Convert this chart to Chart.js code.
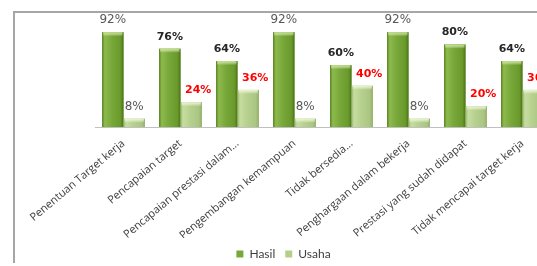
<!DOCTYPE html>
<html>
<head>
<meta charset="utf-8">
<script src="https://cdn.jsdelivr.net/npm/chart.js@4/dist/chart.umd.min.js"></script>
<style>
html,body{margin:0;padding:0;background:#fff;overflow:hidden;height:266px;}
#wrap{position:relative;width:567px;height:270px;}
</style>
</head>
<body>
<div id="wrap"><canvas id="c" width="567" height="270"></canvas></div>
<script>
const categories = [
  "Penentuan Target kerja",
  "Pencapaian target",
  "Pencapaian prestasi dalam...",
  "Pengembangan kemampuan",
  "Tidak bersedia...",
  "Penghargaan dalam bekerja",
  "Prestasi yang sudah didapat",
  "Tidak mencapai target kerja"
];
const hasil = [92, 76, 64, 92, 60, 92, 80, 64];
const usaha = [8, 24, 36, 8, 40, 8, 20, 36];
const seriesNames = ["Hasil", "Usaha"];

const framePlugin = {
  id: 'frame',
  beforeDraw(chart) {
    const ctx = chart.ctx;
    ctx.save();
    ctx.fillStyle = '#ffffff';
    ctx.fillRect(0, 0, chart.width, chart.height);
    ctx.strokeStyle = '#a6a6a6';
    ctx.lineWidth = 2;
    ctx.beginPath();
    ctx.moveTo(14, 263);
    ctx.lineTo(14, 12);
    ctx.lineTo(700, 12);
    ctx.stroke();
    ctx.restore();
  }
};

const barStyle = [
  { stops: [[0,'#587f22'],[0.12,'#8dba4c'],[0.45,'#79a83a'],[0.85,'#6a9a2c'],[1,'#4c7418']], cap: '#c6e28a' },
  { stops: [[0,'#98b56c'],[0.12,'#c6dda0'],[0.45,'#b7d08e'],[0.85,'#aac682'],[1,'#93b068']], cap: '#e8f5cc' }
];

const barShade = {
  id: 'barShade',
  afterDatasetsDraw(chart) {
    const ctx = chart.ctx;
    ctx.save();
    chart.data.datasets.forEach((ds, di) => {
      const meta = chart.getDatasetMeta(di);
      const st = barStyle[di];
      meta.data.forEach((bar) => {
        const w = bar.width, l = bar.x - w / 2, t = bar.y, b = bar.base;
        const g = ctx.createLinearGradient(l, 0, l + w, 0);
        st.stops.forEach(s => g.addColorStop(s[0], s[1]));
        ctx.fillStyle = g;
        ctx.fillRect(l, t, w, b - t);
        const cg = ctx.createLinearGradient(0, t, 0, t + 4);
        cg.addColorStop(0, st.cap);
        cg.addColorStop(1, 'rgba(255,255,255,0)');
        ctx.fillStyle = cg;
        ctx.fillRect(l + 1, t, w - 2, 4);
      });
    });
    ctx.restore();
  }
};

const valueLabels = {
  id: 'valueLabels',
  afterDatasetsDraw(chart) {
    const ctx = chart.ctx;
    ctx.save();
    ctx.textAlign = 'center';
    ctx.textBaseline = 'middle';
    chart.data.datasets.forEach((ds, di) => {
      const meta = chart.getDatasetMeta(di);
      meta.data.forEach((bar, i) => {
        const v = ds.data[i];
        let color, font, dx = 0;
        if (di === 0) {
          if (v === 92) { color = '#595959'; font = '12px "DejaVu Sans"'; }
          else { color = '#262626'; font = 'bold 11px "DejaVu Sans"'; }
        } else {
          if (v === 8) { color = '#595959'; font = '12px "DejaVu Sans"'; }
          else { color = '#ff0000'; font = 'bold 11px "DejaVu Sans"'; dx = 7; }
        }
        ctx.fillStyle = color;
        ctx.font = font;
        ctx.fillText(v + '%', bar.x + dx, bar.y - 12);
      });
    });
    ctx.restore();
  }
};

new Chart(document.getElementById('c'), {
  type: 'bar',
  data: {
    labels: categories,
    datasets: [
      { label: seriesNames[0], data: hasil, backgroundColor: '#77a83a', borderWidth: 0 },
      { label: seriesNames[1], data: usaha, backgroundColor: '#b5cf8a', borderWidth: 0 }
    ]
  },
  options: {
    responsive: false,
    animation: false,
    events: [],
    layout: { padding: { top: 24, bottom: 0, left: 0, right: 0 } },
    datasets: { bar: { categoryPercentage: 0.75, barPercentage: 1.0 } },
    scales: {
      x: {
        grid: { display: false },
        border: { display: true, color: '#c0c0c0', width: 1 },
        ticks: {
          minRotation: 40, maxRotation: 40, autoSkip: false, padding: 2,
          color: '#404040', font: { family: 'Open Sans', size: 11 }
        },
        afterFit(s) {
          const lh = s.chart.legend ? s.chart.legend.height : 0;
          s.height = s.chart.height - lh - 127;
        }
      },
      y: {
        min: 0, max: 100, position: 'left',
        grid: { display: false }, border: { display: false },
        ticks: { display: false },
        afterFit(s) { s.width = 95; }
      },
      y2: {
        min: 0, max: 100, position: 'right', display: true,
        grid: { display: false }, border: { display: false },
        ticks: { display: false },
        afterFit(s) { s.width = 16; }
      }
    },
    plugins: {
      legend: {
        position: 'bottom',
        labels: {
          boxWidth: 7, boxHeight: 7, padding: 10,
          color: '#404040', font: { family: 'Lato', size: 12 }
        }
      },
      tooltip: { enabled: false }
    }
  },
  plugins: [framePlugin, barShade, valueLabels]
});
</script>
</body>
</html>
